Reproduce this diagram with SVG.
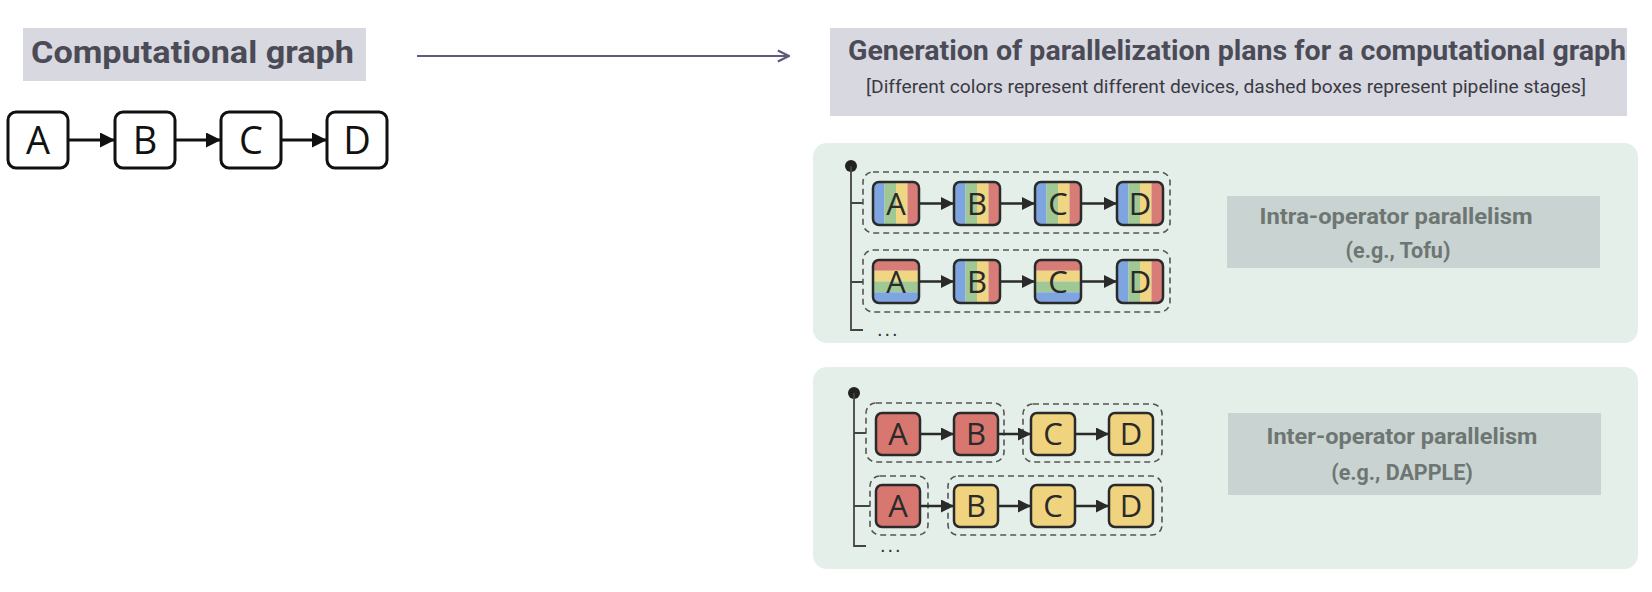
<svg xmlns="http://www.w3.org/2000/svg" width="1652" height="592" viewBox="0 0 1652 592">
<style>
.ttl{font-family:Roboto,"Liberation Sans",sans-serif;font-weight:bold;fill:#4b4b57}
.sub{font-family:Roboto,"Liberation Sans",sans-serif;fill:#3a3a44}
.lbl{font-family:Roboto,"Liberation Sans",sans-serif;font-weight:bold;fill:#6e7673;font-size:21.5px;text-anchor:middle}
.big{fill:#fff;stroke:#111;stroke-width:3}
.bigt{font-family:"Open Sans","DejaVu Sans",sans-serif;font-size:38px;fill:#111;text-anchor:middle}
.nd{stroke:#2a2a2a;stroke-width:2.5}
.ndt{font-family:"Open Sans","DejaVu Sans",sans-serif;font-size:31px;fill:#2a2a2a;text-anchor:middle}
.dash{fill:none;stroke:#555;stroke-width:1.6;stroke-dasharray:6 4}
.tree{fill:none;stroke:#444;stroke-width:1.8}
.dots{font-family:"Liberation Sans",sans-serif;font-size:20px;fill:#333;letter-spacing:2px}
.arr{stroke:#2a2a2a;stroke-width:2.5;fill:none;marker-end:url(#ah)}
.barr{stroke:#111;stroke-width:3;fill:none;marker-end:url(#bh)}
.panel{fill:#e5efea}
.gbox{fill:#c9d3d1}
</style>
<defs>
<marker id="ah" viewBox="0 0 10 10" refX="10" refY="5" markerWidth="15" markerHeight="13" markerUnits="userSpaceOnUse" orient="auto"><path d="M0,0 L10,5 L0,10 z" fill="#2a2a2a"/></marker>
<marker id="bh" viewBox="0 0 10 10" refX="10" refY="5" markerWidth="19" markerHeight="15" markerUnits="userSpaceOnUse" orient="auto"><path d="M0,0 L10,5 L0,10 z" fill="#111"/></marker>
<marker id="oh" viewBox="0 0 10 10" refX="9" refY="5" markerWidth="14" markerHeight="14" markerUnits="userSpaceOnUse" orient="auto"><path d="M1,1 L9,5 L1,9" fill="none" stroke="#5c5c7a" stroke-width="1.6"/></marker>
<pattern id="vs" patternUnits="objectBoundingBox" patternContentUnits="objectBoundingBox" width="1" height="1">
<rect x="0" y="0" width="0.25" height="1" fill="#7fa5e0"/><rect x="0.25" y="0" width="0.25" height="1" fill="#a0c894"/><rect x="0.5" y="0" width="0.25" height="1" fill="#f0d683"/><rect x="0.75" y="0" width="0.25" height="1" fill="#d77c77"/>
</pattern>
<pattern id="hs" patternUnits="objectBoundingBox" patternContentUnits="objectBoundingBox" width="1" height="1">
<rect x="0" y="0" width="1" height="0.25" fill="#d77c77"/><rect x="0" y="0.25" width="1" height="0.25" fill="#f0d683"/><rect x="0" y="0.5" width="1" height="0.25" fill="#a0c894"/><rect x="0" y="0.75" width="1" height="0.25" fill="#7fa5e0"/>
</pattern>
</defs>
<rect width="1652" height="592" fill="#fff"/>

<g id="title-left">
<rect x="23" y="28" width="343" height="53" fill="#d8d8e0"/>
<text class="ttl" x="31" y="63" font-size="32" textLength="323" lengthAdjust="spacingAndGlyphs">Computational graph</text>
</g>

<g id="title-right">
<rect x="830" y="28" width="797" height="88" fill="#d8d8e0"/>
<text class="ttl" x="1237" y="60" font-size="28" text-anchor="middle" textLength="778" lengthAdjust="spacingAndGlyphs">Generation of parallelization plans for a computational graph</text>
<text class="sub" x="1226" y="93" font-size="19" text-anchor="middle" textLength="720" lengthAdjust="spacingAndGlyphs">[Different colors represent different devices, dashed boxes represent pipeline stages]</text>
</g>

<g id="graph-A"><rect class="big" x="8" y="112" width="60" height="56" rx="8"/><text class="bigt" x="38" y="154">A</text></g>
<g id="graph-B"><rect class="big" x="115" y="112" width="60" height="56" rx="8"/><text class="bigt" x="145" y="154">B</text></g>
<g id="graph-C"><rect class="big" x="221" y="112" width="60" height="56" rx="8"/><text class="bigt" x="251" y="154">C</text></g>
<g id="graph-D"><rect class="big" x="327" y="112" width="60" height="56" rx="8"/><text class="bigt" x="357" y="154">D</text></g>

<g id="panel-intra">
<rect class="panel" x="813" y="143" width="825" height="200" rx="14"/>
<rect class="gbox" x="1227" y="196" width="373" height="72"/>
<text class="lbl" x="1396" y="224" textLength="273" lengthAdjust="spacingAndGlyphs">Intra-operator parallelism</text>
<text class="lbl" x="1398" y="258">(e.g., Tofu)</text>
<circle cx="851" cy="166" r="6" fill="#222"/>
<path class="tree" d="M851,166 V330 H863 M851,203 H863 M851,282 H863"/>
<text class="dots" x="877" y="336">...</text>
<rect class="dash" x="863" y="172" width="307" height="61" rx="10"/>
<rect class="dash" x="863" y="250" width="307" height="62" rx="10"/>
<g id="i1A"><rect class="nd" x="873" y="182" width="46" height="43" rx="6" fill="url(#vs)"/><text class="ndt" x="896" y="215">A</text></g>
<g id="i1B"><rect class="nd" x="954" y="182" width="46" height="43" rx="6" fill="url(#vs)"/><text class="ndt" x="977" y="215">B</text></g>
<g id="i1C"><rect class="nd" x="1035" y="182" width="46" height="43" rx="6" fill="url(#vs)"/><text class="ndt" x="1058" y="215">C</text></g>
<g id="i1D"><rect class="nd" x="1117" y="182" width="46" height="43" rx="6" fill="url(#vs)"/><text class="ndt" x="1140" y="215">D</text></g>
<g id="i2A"><rect class="nd" x="873" y="260" width="46" height="43" rx="6" fill="url(#hs)"/><text class="ndt" x="896" y="293">A</text></g>
<g id="i2B"><rect class="nd" x="954" y="260" width="46" height="43" rx="6" fill="url(#vs)"/><text class="ndt" x="977" y="293">B</text></g>
<g id="i2C"><rect class="nd" x="1035" y="260" width="46" height="43" rx="6" fill="url(#hs)"/><text class="ndt" x="1058" y="293">C</text></g>
<g id="i2D"><rect class="nd" x="1117" y="260" width="46" height="43" rx="6" fill="url(#vs)"/><text class="ndt" x="1140" y="293">D</text></g>
</g>

<g id="panel-inter">
<rect class="panel" x="813" y="367" width="825" height="202" rx="14"/>
<rect class="gbox" x="1228" y="413" width="373" height="82"/>
<text class="lbl" x="1402" y="444" textLength="271" lengthAdjust="spacingAndGlyphs">Inter-operator parallelism</text>
<text class="lbl" x="1402" y="480">(e.g., DAPPLE)</text>
<circle cx="854" cy="393" r="6" fill="#222"/>
<path class="tree" d="M854,393 V546 H866 M854,433 H866 M854,506 H870"/>
<text class="dots" x="880" y="552">...</text>
<rect class="dash" x="866" y="403" width="138" height="59" rx="10"/>
<rect class="dash" x="1023" y="404" width="139" height="58" rx="10"/>
<rect class="dash" x="870" y="476" width="58" height="59" rx="10"/>
<rect class="dash" x="948" y="476" width="214" height="59" rx="10"/>
<g id="e1A"><rect class="nd" x="876" y="413" width="44" height="42" rx="6" fill="#d8776f"/><text class="ndt" x="898" y="445">A</text></g>
<g id="e1B"><rect class="nd" x="954" y="413" width="44" height="42" rx="6" fill="#d8776f"/><text class="ndt" x="976" y="445">B</text></g>
<g id="e1C"><rect class="nd" x="1031" y="413" width="44" height="42" rx="6" fill="#efd37f"/><text class="ndt" x="1053" y="445">C</text></g>
<g id="e1D"><rect class="nd" x="1109" y="413" width="44" height="42" rx="6" fill="#efd37f"/><text class="ndt" x="1131" y="445">D</text></g>
<g id="e2A"><rect class="nd" x="876" y="485" width="44" height="42" rx="6" fill="#d8776f"/><text class="ndt" x="898" y="517">A</text></g>
<g id="e2B"><rect class="nd" x="954" y="485" width="44" height="42" rx="6" fill="#efd37f"/><text class="ndt" x="976" y="517">B</text></g>
<g id="e2C"><rect class="nd" x="1031" y="485" width="44" height="42" rx="6" fill="#efd37f"/><text class="ndt" x="1053" y="517">C</text></g>
<g id="e2D"><rect class="nd" x="1109" y="485" width="44" height="42" rx="6" fill="#efd37f"/><text class="ndt" x="1131" y="517">D</text></g>
</g>

<g id="connectors">
<path d="M417,56 H789" stroke="#5c5c7a" stroke-width="1.8" fill="none" marker-end="url(#oh)"/>
<path class="barr" d="M68,140 H115"/>
<path class="barr" d="M175,140 H221"/>
<path class="barr" d="M281,140 H327"/>
<path class="arr" d="M919,203.5 H954"/>
<path class="arr" d="M1000,203.5 H1035"/>
<path class="arr" d="M1081,203.5 H1117"/>
<path class="arr" d="M919,281.5 H954"/>
<path class="arr" d="M1000,281.5 H1035"/>
<path class="arr" d="M1081,281.5 H1117"/>
<path class="arr" d="M920,434 H954"/>
<path class="arr" d="M998,434 H1031"/>
<path class="arr" d="M1075,434 H1109"/>
<path class="arr" d="M920,506 H954"/>
<path class="arr" d="M998,506 H1031"/>
<path class="arr" d="M1075,506 H1109"/>
</g>
</svg>
